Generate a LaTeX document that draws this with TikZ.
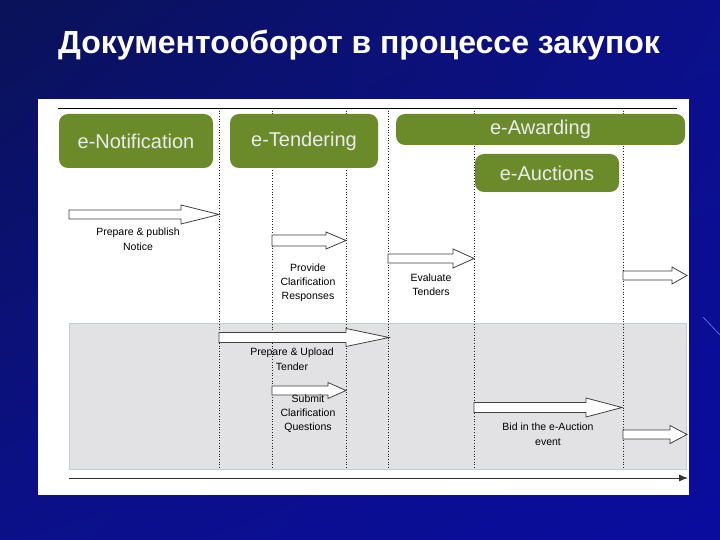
\documentclass[tikz,border=0pt]{standalone}
\usepackage{fontspec}
\setmainfont{Liberation Sans}
\usetikzlibrary{arrows.meta, positioning, shadings}
\definecolor{slideblue}{HTML}{0A0C9E}
\definecolor{slidemid}{HTML}{0B108A}
\definecolor{slidedark}{HTML}{0A1258}
\definecolor{boxgreen}{HTML}{6B8B2B}
\definecolor{bandgray}{HTML}{E2E2E4}
\definecolor{bandedge}{HTML}{C4CCD8}
\tikzset{
  % Fasi del processo
  phase/.style={rounded corners=9pt,fill=boxgreen,text=white!92!black,
    font=\fontsize{20}{23}\selectfont,inner sep=0pt},
  % Testi sotto le frecce
  step label/.style={font=\fontsize{10.5}{12}\selectfont,align=center,text=black,inner sep=0pt},
  block arrow/.style={draw=black!75,fill=white,line width=0.8pt},
  guide/.style={dotted,black!85,line width=0.7pt}
}
% freccia a blocco: inizio, inizio punta, punta, y, mezzo fusto, mezza punta
\newcommand{\blockarr}[6]{%
  \draw[block arrow] (#1,#4-#5) -- (#2,#4-#5) -- (#2,#4-#6) -- (#3,#4)
    -- (#2,#4+#6) -- (#2,#4+#5) -- (#1,#4+#5) -- cycle;}

\begin{document}
\begin{tikzpicture}[x=1pt,y=-1pt]
    \useasboundingbox (0,0) rectangle (720,540);
    % Sfondo della slide
    \shade[upper left=slidedark,upper right=slidemid,lower left=slidemid,lower right=slideblue]
      (0,0) rectangle (720,540);
    \draw[blue!40!white,opacity=0.8,line width=0.6pt] (703,317) -- (720,335);
    \node[text=white,font=\bfseries\fontsize{32}{36}\selectfont] (title) at (359,45)
      {Документооборот в процессе закупок};
    % Pannello bianco
    \fill[white] (38,99) rectangle (689,495);
    \draw[bandedge,fill=bandgray] (69,323) rectangle (686,469);
    \coordinate (top l) at (58,108);
    \coordinate (top r) at (677,108);
    \draw[black,line width=0.8pt] (top l) -- (top r);
    % Linee guida tratteggiate
    \foreach \x in {219,272,346,388,474,623}
      \draw[guide] (\x,108) -- (\x,469);
    % Fasi
    \node[phase,minimum width=154,minimum height=54] (notif) at (136,141) {e-Notification};
    \node[phase,minimum width=148,minimum height=54] (tender) at (304,141) {e-Tendering};
    \node[phase,minimum width=289,minimum height=31] (award) at (540.5,129.5) {e-Awarding};
    \node[phase,minimum width=144,minimum height=38] (auction) at (547,173) {e-Auctions};
    % Frecce (parte superiore)
    \blockarr{69}{181}{219}{214.5}{4.5}{9.5}
    \node[step label] (publish) at (138,239) {Prepare \& publish\\[3pt]Notice};
    \blockarr{272}{326}{346}{240.5}{5.5}{8.5}
    \node[step label] (respond) at (308,283) {Provide\\[2pt]Clarification\\[2pt]Responses};
    \blockarr{388}{453}{474}{258.5}{4.5}{9.5}
    \node[step label] (evaluate) at (431,284.5) {Evaluate\\[2pt]Tenders};
    \blockarr{623}{672}{687}{275.5}{4.5}{8.5}
    % Frecce (fascia grigia)
    \blockarr{219}{346}{389}{337.5}{5}{9}
    \node[step label] (upload) at (292,359.5) {Prepare \& Upload\\[3pt]Tender};
    \blockarr{272}{328}{346}{390.5}{4.5}{8}
    \node[step label] (questions) at (308,414) {Submit\\[2pt]Clarification\\[2pt]Questions};
    \blockarr{474}{586}{622}{407.5}{5}{9.5}
    \node[step label] (bid) at (548,434.5) {Bid in the e-Auction\\[3pt]event};
    \blockarr{623}{670}{687}{434.5}{4.5}{9}
    % Asse del tempo
    \coordinate (t start) at (69,478);
    \coordinate (t end) at (688,478);
    \draw[black!80,line width=0.8pt,-{Latex[length=9,width=7]}] (t start) -- (t end);
\end{tikzpicture}
\end{document}
